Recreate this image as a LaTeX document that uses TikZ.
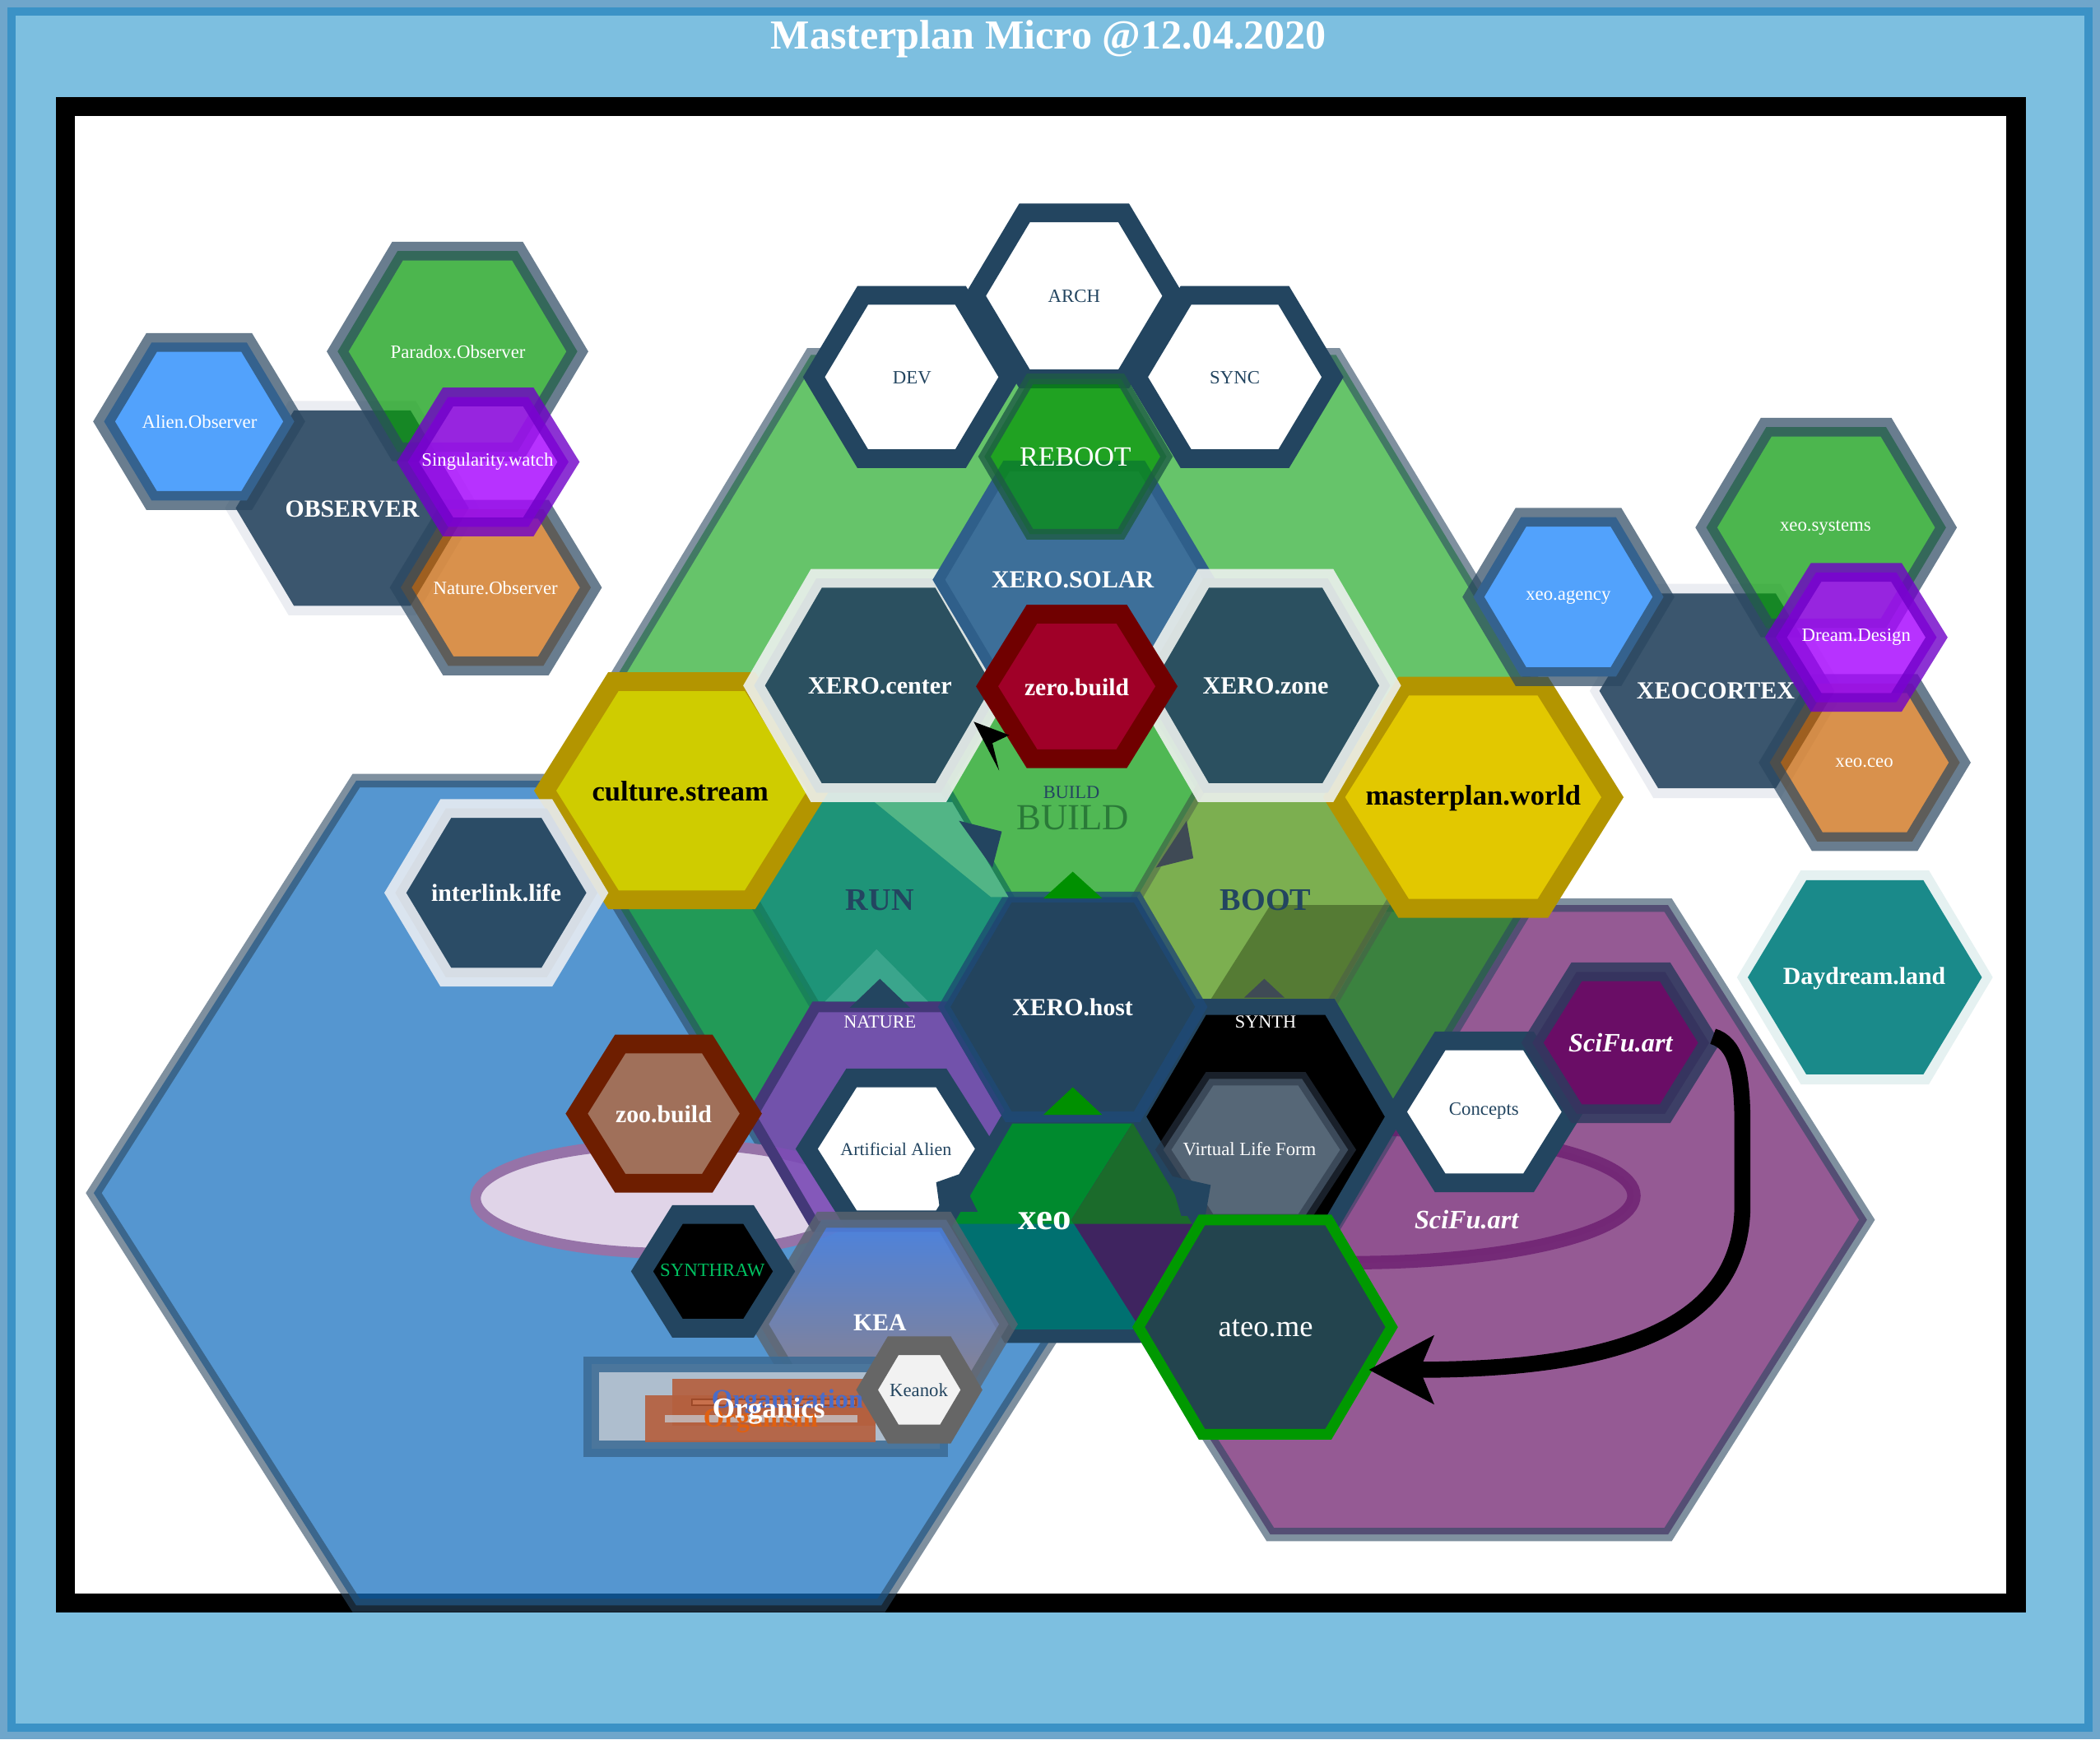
\documentclass[tikz,border=0pt]{standalone}
\usepackage{fontspec}
\setmainfont{Liberation Serif}
\usetikzlibrary{arrows.meta}
\definecolor{bgblue}{HTML}{7DBFE0}
\definecolor{outerband}{HTML}{6FA6CB}
\definecolor{frameline}{HTML}{3B92C6}
\definecolor{slate}{HTML}{234560}
\definecolor{ringgray}{HTML}{2A4760}
\definecolor{bluehex}{HTML}{146EBE}
\definecolor{purplehex}{HTML}{955A94}
\definecolor{greenhex}{HTML}{009D07}
\definecolor{buildc}{HTML}{50B854}
\definecolor{builddk}{HTML}{1E7A40}
\definecolor{runc}{HTML}{1E9478}
\definecolor{rundk}{HTML}{16785A}
\definecolor{bootc}{HTML}{7CAF50}
\definecolor{bootlow}{HTML}{557B34}
\definecolor{bootdk}{HTML}{4A5A4A}
\definecolor{hostc}{HTML}{23445E}
\definecolor{hostdk}{HTML}{1E4A7A}
\definecolor{naturec}{HTML}{7B4BB5}
\definecolor{naturedk}{HTML}{433878}
\definecolor{xeoteal}{HTML}{007070}
\definecolor{xeogreen}{HTML}{008A2E}
\definecolor{xeopurple}{HTML}{3F2460}
\definecolor{xeogreendk}{HTML}{1B6B2B}
\definecolor{wedgec}{HTML}{52B586}
\definecolor{lightteal}{HTML}{40A890}
\definecolor{darkgrayc}{HTML}{3F4A55}
\definecolor{tipgreen}{HTML}{009000}
\definecolor{solarc}{HTML}{3D6F99}
\definecolor{solarring}{HTML}{2F5F8A}
\definecolor{centerc}{HTML}{2B5060}
\definecolor{whitering}{HTML}{EDF1EE}
\definecolor{zerofill}{HTML}{A00028}
\definecolor{zeroring}{HTML}{700000}
\definecolor{rebootc}{HTML}{009300}
\definecolor{rebootring}{HTML}{1E5B45}
\definecolor{culturec}{HTML}{CFCC00}
\definecolor{masterc}{HTML}{E2C800}
\definecolor{goldring}{HTML}{B39500}
\definecolor{interc}{HTML}{2B4C66}
\definecolor{interring}{HTML}{E9EDF3}
\definecolor{zoofill}{HTML}{A0705A}
\definecolor{zooring}{HTML}{6E1E00}
\definecolor{synthgreen}{HTML}{00C060}
\definecolor{vlfc}{HTML}{566777}
\definecolor{vlfring}{HTML}{2A3646}
\definecolor{scifuc}{HTML}{6A0D66}
\definecolor{scifuring}{HTML}{2E3B5E}
\definecolor{ateoc}{HTML}{23444E}
\definecolor{ateoring}{HTML}{009900}
\definecolor{keanokring}{HTML}{666666}
\definecolor{keanokfill}{HTML}{F2F2F2}
\definecolor{keatop}{HTML}{4A80E0}
\definecolor{keabot}{HTML}{A08075}
\definecolor{keaedge}{HTML}{5A6470}
\definecolor{orgring}{HTML}{3A6A94}
\definecolor{orgfill}{HTML}{AEBECE}
\definecolor{orgorange}{HTML}{B5603F}
\definecolor{orglight}{HTML}{C8704C}
\definecolor{orgbar}{HTML}{C7D3DD}
\definecolor{orgblue}{HTML}{4A6CC8}
\definecolor{orgtext}{HTML}{E06010}
\definecolor{obsfill}{HTML}{3B566E}
\definecolor{obsborder}{HTML}{E8EBF0}
\definecolor{alienblue}{HTML}{52A2FC}
\definecolor{paragreen}{HTML}{089B0A}
\definecolor{singfill}{HTML}{A806FF}
\definecolor{singring}{HTML}{7000C8}
\definecolor{natorange}{HTML}{C96300}
\definecolor{dayc}{HTML}{1A8A8A}
\definecolor{dayring}{HTML}{E5F1F1}
\definecolor{lavender}{HTML}{E0D4E8}
\definecolor{lavring}{HTML}{9673A8}
\definecolor{scifuell}{HTML}{7A2A7A}
\definecolor{scifuellring}{HTML}{6A1A6E}
\definecolor{buildtext}{HTML}{2A7A38}
\newcommand\hx[5][]{\path[#1] ({#2-#4},{#3}) -- ({#2-0.5*#4},{#3-#5}) -- ({#2+0.5*#4},{#3-#5}) -- ({#2+#4},{#3}) -- ({#2+0.5*#4},{#3+#5}) -- ({#2-0.5*#4},{#3+#5}) -- cycle;}
\newcommand\hxclip[4]{\clip ({#1-#3},{#2}) -- ({#1-0.5*#3},{#2-#4}) -- ({#1+0.5*#3},{#2-#4}) -- ({#1+#3},{#2}) -- ({#1+0.5*#3},{#2+#4}) -- ({#1-0.5*#3},{#2+#4}) -- cycle;}
\newcommand\fsz[1]{\fontsize{#1pt}{#1pt}\selectfont}
\begin{document}
\begin{tikzpicture}[x=0.5pt,y=-0.5pt,
  lbl/.style={inner sep=0pt, anchor=center},
  wl/.style={lbl, text=white},
  sl/.style={lbl, text=slate},
  bighex/.style={draw=ringgray, draw opacity=0.6, line width=5pt},
  ringA/.style={line width=7pt},
  obsring/.style={draw=ringgray, draw opacity=0.7, line width=7pt},
  tile/.style={line width=4pt}]
\useasboundingbox (0,0) rectangle (1568,1299);
% frame
\fill[outerband] (0,0) rectangle (1568,1299);
\path[fill=bgblue, draw=frameline, line width=3pt] (8.7,8.7) rectangle (1559.3,1290.3);
\fill[black] (42,72.5) rectangle (1512.5,1204.5);
\fill[white] (56,86.5) rectangle (1498,1190);
% big hexes
\hx[fill=purplehex, bighex]{1097}{911}{297}{235}
\hx[fill=bluehex, fill opacity=0.72, bighex]{462}{891}{392}{308}
\hx[fill=greenhex, fill opacity=0.6, bighex]{801.5}{589.5}{392}{324.5}
% ellipses
\draw[fill=lavender, draw=lavring, line width=4pt] (500,895) ellipse [x radius=145, y radius=41];
\draw[fill=scifuell, fill opacity=0.15, draw=scifuellring, draw opacity=0.75, line width=5pt] (1010,893) ellipse [x radius=210, y radius=50];
% honeycomb
\hx[fill=buildc, draw=builddk, draw opacity=0.4, tile]{801}{588}{96}{82}
\hx[fill=runc, draw=rundk, draw opacity=0.7, tile]{657}{670}{96}{82}
\hx[fill=bootc]{945}{670}{96}{82}
\begin{scope}\hxclip{945}{670}{96}{82}\hx[fill=bootlow]{1097}{911}{297}{235}\end{scope}
\hx[draw=bootdk, draw opacity=0.5, tile]{945}{670}{96}{82}
\hx[fill=naturec, fill opacity=0.9, draw=naturedk, tile]{657}{834}{96}{82}
\hx[fill=black, draw=slate, line width=6pt]{945}{834}{96}{82}
\hx[fill=xeoteal]{801}{916}{96}{82}
\begin{scope}\hxclip{801}{916}{96}{82}
 \hx[fill=xeogreen]{801.5}{589.5}{392}{324.5}
 \hx[fill=xeopurple]{1097}{911}{297}{235}
 \begin{scope}\hxclip{1097}{911}{297}{235}\hx[fill=xeogreendk]{801.5}{589.5}{392}{324.5}\end{scope}
\end{scope}
\hx[draw=slate, line width=5pt]{801}{916}{96}{82}
\hx[fill=hostc, draw=hostdk, draw opacity=0.7, tile]{801}{752}{96}{82}
% wedge and markers
\fill[wedgec] (653,599) -- (711,599) -- (753,670) -- (740,670) -- cycle;
\fill[tipgreen] (779,671) -- (823,671) -- (801,651) -- cycle;
\fill[tipgreen] (779,832.6) -- (823,832.6) -- (801,812) -- cycle;
\fill[lightteal, opacity=0.85] (616,748) -- (654.5,709) -- (693,748) -- cycle;
\fill[slate] (634.5,752.6) -- (657,731) -- (679.5,752.6) -- cycle;
\fill[darkgrayc] (929,745) -- (944,731) -- (959,745) -- cycle;
% culture / masterplan
\hx[fill=culturec, draw=goldring, ringA]{509}{590.5}{102}{81.5}
\hx[fill=masterc, draw=goldring, ringA]{1100}{595.4}{104}{83}
% top trio
\hx[fill=white, draw=slate, ringA]{680.7}{281.6}{73}{61}
\hx[fill=white, draw=slate, ringA]{922}{281.6}{73}{61}
\hx[fill=white, draw=slate, ringA]{802}{221}{74}{62}
% XERO row
\hx[fill=centerc, draw=whitering, draw opacity=0.9, ringA]{656}{512}{93}{80}
\hx[fill=solarc, draw=solarring, line width=4pt]{802}{433}{101}{85}
\hx[fill=centerc, draw=whitering, draw opacity=0.9, ringA]{945}{512}{93}{80}
\hx[fill=rebootc, fill opacity=0.68, draw=rebootring, draw opacity=0.8, tile]{803}{341}{68}{58}
\hx[fill=zerofill, draw=zeroring, ringA]{804}{512.6}{67}{54}
% arrow tips in center
\fill[black] (727,539) -- (753.6,549) -- (741,555) -- (746,575.5) -- cycle;
\fill[slate] (716,613) -- (748,621) -- (741,648) -- cycle;
\fill[darkgrayc] (886,613) -- (891,641) -- (863,648) -- cycle;
% left-lower hexes
\hx[fill=interc, draw=interring, draw opacity=0.9, ringA]{370.6}{666.8}{75.5}{63}
\hx[fill=zoofill, draw=zooring, ringA]{495.6}{831.7}{65}{52}
\hx[fill=white, draw=slate, ringA]{669.3}{858}{67}{53}
\fill[slate] (716,877) -- (699,883) -- (702,905) -- (730,905) -- cycle;
\hx[fill=vlfc, draw=vlfring, draw opacity=0.6, line width=5pt]{937.6}{858.7}{69}{53}
\fill[slate] (873,878) -- (904,885) -- (900,908) -- (882,908) -- cycle;
\hx[top color=keatop, bottom color=keabot, fill opacity=0.9, draw=keaedge, draw opacity=0.8, line width=6pt]{660}{989}{93}{78}
% Organics box
\path[fill=orgfill, draw=orgring, draw opacity=0.85, line width=6pt] (441.5,1019) rectangle (701.5,1082);
\fill[orgorange, opacity=0.92] (501.7,1029.6) rectangle (654,1065);
\fill[orgorange, opacity=0.92] (481.7,1041.8) rectangle (654,1076.8);
\path[fill=orglight, draw=zooring, draw opacity=0.4, line width=0.6pt] (516.5,1045) rectangle (638.8,1049.5);
\path[fill=orgbar, fill opacity=0.7] (496.6,1057) rectangle (640,1062.5);
\hx[fill=black, draw=slate, ringA]{532.4}{949.5}{53}{42.5}
\hx[fill=keanokfill, draw=keanokring, ringA]{686.4}{1038}{39}{33}
% right-lower hexes
\hx[fill=ateoc, draw=ateoring, tile]{944.6}{991.1}{94.5}{80}
\hx[fill=white, draw=slate, ringA]{1108.3}{830.4}{66}{53}
\hx[fill=scifuc, draw=scifuring, draw opacity=0.85, ringA]{1210.2}{778.8}{66}{53}
% observer cluster
\hx[fill=obsborder, fill opacity=0.85]{263}{379.5}{95}{80}
\hx[fill=obsfill]{263}{379.5}{87}{73}
\hx[fill=alienblue, obsring]{148.7}{314.8}{71}{59}
\hx[fill=paragreen, fill opacity=0.72, obsring]{341.6}{262.5}{89.5}{75}
\hx[fill=natorange, fill opacity=0.7, obsring]{370.2}{438.8}{71}{58.5}
\hx[fill=singfill, fill opacity=0.82, draw=singring, draw opacity=0.8, ringA]{364.5}{345}{60}{48.5}
% xeocortex cluster
\hx[fill=obsborder, fill opacity=0.85]{1282}{516}{95}{80}
\hx[fill=obsfill]{1282}{516}{87.8}{72.7}
\hx[fill=alienblue, obsring]{1171.1}{445.8}{71}{59.5}
\hx[fill=paragreen, fill opacity=0.72, obsring]{1363.5}{394}{89.5}{75}
\hx[fill=natorange, fill opacity=0.7, obsring]{1392.3}{569.5}{71}{59}
\hx[fill=singfill, fill opacity=0.82, draw=singring, draw opacity=0.8, ringA]{1386}{476}{60}{48.5}
% daydream
\hx[fill=dayring]{1392.4}{729.9}{95.5}{80}
\hx[fill=dayc]{1392.4}{729.9}{87.4}{72.5}
% curved connector
\coordinate (arrS) at (1279,774);
\coordinate (arrE) at (1022,1023);
\draw[line width=6pt, -{Stealth[length=24pt, width=25pt, inset=5pt]}] (arrS) .. controls (1296,779) and (1301,800) .. (1301,840) -- (1301,900) .. controls (1301,995) and (1200,1023) .. (arrE);
% labels
\node[wl, font=\fsz{15.4}\bfseries] (ntitle) at (783,29) {Masterplan Micro @12.04.2020};
\node[wl, font=\fsz{9.15}\bfseries] (nobserver) at (263,380) {OBSERVER};
\node[wl, font=\fsz{7}] (nalien) at (149,315) {Alien.Observer};
\node[wl, font=\fsz{7}] (nparadox) at (342,263) {Paradox.Observer};
\node[wl, font=\fsz{7}] (nsing) at (364,345) {Singularity.watch};
\node[wl, font=\fsz{7}] (nnatobs) at (370,439) {Nature.Observer};
\node[wl, font=\fsz{9.2}\bfseries] (nxeocortex) at (1281,516) {XEOCORTEX};
\node[wl, font=\fsz{7}] (nagency) at (1171,446) {xeo.agency};
\node[wl, font=\fsz{7}] (nsystems) at (1363,394) {xeo.systems};
\node[wl, font=\fsz{7}] (ndream) at (1386,476) {Dream.Design};
\node[wl, font=\fsz{7}] (nceo) at (1392,570) {xeo.ceo};
\node[wl, font=\fsz{9.15}\bfseries] (nday) at (1392,731) {Daydream.land};
\node[sl, font=\fsz{7}] (narch) at (802,221) {ARCH};
\node[sl, font=\fsz{7}] (ndev) at (681,282) {DEV};
\node[sl, font=\fsz{7}] (nsync) at (922,282) {SYNC};
\node[wl, font=\fsz{10.4}] (nreboot) at (803,341) {REBOOT};
\node[wl, font=\fsz{9.2}\bfseries] (nsolar) at (801,433) {XERO.SOLAR};
\node[wl, font=\fsz{9.25}\bfseries] (ncenter) at (657,512) {XERO.center};
\node[wl, font=\fsz{9.1}\bfseries] (nzero) at (804,513) {zero.build};
\node[wl, font=\fsz{9.25}\bfseries] (nzone) at (945,512) {XERO.zone};
\node[lbl, text=black, font=\fsz{10.6}\bfseries] (nculture) at (508,591) {culture.stream};
\node[lbl, text=black, font=\fsz{10.6}\bfseries] (nmaster) at (1100,596) {masterplan.world};
\node[sl, font=\fsz{6.9}] (nbuilds) at (800,592) {BUILD};
\node[lbl, text=buildtext, font=\fsz{13.75}] (nbuildb) at (801,611) {BUILD};
\node[sl, font=\fsz{11.75}\bfseries] (nrun) at (657,672) {RUN};
\node[sl, font=\fsz{11.75}\bfseries] (nboot) at (945,672) {BOOT};
\node[wl, font=\fsz{9.15}\bfseries] (ninter) at (370.5,667) {interlink.life};
\node[wl, font=\fsz{9.15}\bfseries] (nhost) at (801,752) {XERO.host};
\node[wl, font=\fsz{6.85}] (nnature) at (657,763) {NATURE};
\node[wl, font=\fsz{6.85}] (nsynth) at (945,763) {SYNTH};
\node[wl, font=\fsz{9.15}\bfseries] (nzoo) at (495.5,832) {zoo.build};
\node[sl, font=\fsz{6.75}] (nartificial) at (669,858) {Artificial Alien};
\node[wl, font=\fsz{7}] (nvlf) at (933,858) {Virtual Life Form};
\node[sl, font=\fsz{7}] (nconcepts) at (1108,830) {Concepts};
\node[wl, font=\fsz{9.9}\bfseries\itshape] (nscifu) at (1210,779) {SciFu.art};
\node[wl, font=\fsz{9.9}\bfseries\itshape] (nscifuell) at (1095,911) {SciFu.art};
\node[wl, font=\fsz{13.8}\bfseries] (nxeo) at (780,912) {xeo};
\node[lbl, text=synthgreen, font=\fsz{7}] (nsynthraw) at (532,949) {SYNTHRAW};
\node[wl, font=\fsz{9.1}\bfseries] (nkea) at (657,988) {KEA};
\node[wl, font=\fsz{11.25}] (nateo) at (945,992) {ateo.me};
\node[sl, font=\fsz{7}] (nkeanok) at (686,1038) {Keanok};
\node[lbl, text=orgblue, font=\fsz{10}\bfseries] (norgz) at (588,1047) {Organization};
\node[lbl, text=orgtext, font=\fsz{10}\bfseries] (norgm) at (568,1061) {Organism};
\node[wl, font=\fsz{10.8}\bfseries] (norgc) at (574,1054) {Organics};
\end{tikzpicture}
\end{document}
